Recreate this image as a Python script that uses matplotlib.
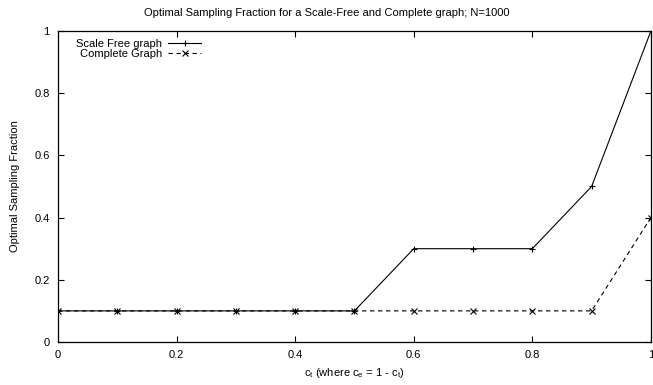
import matplotlib.pyplot as plt
from matplotlib.ticker import FuncFormatter

plt.rcParams['font.family'] = ['Liberation Sans', 'DejaVu Sans']
plt.rcParams['mathtext.default'] = 'regular'

# sampling results
ct = [0.0, 0.1, 0.2, 0.3, 0.4, 0.5, 0.6, 0.7, 0.8, 0.9, 1.0]
scale_free = [0.1, 0.1, 0.1, 0.1, 0.1, 0.1, 0.3, 0.3, 0.3, 0.5, 1.0]
complete = [0.1, 0.1, 0.1, 0.1, 0.1, 0.1, 0.1, 0.1, 0.1, 0.1, 0.4]
ticks = [0, 0.2, 0.4, 0.6, 0.8, 1.0]

fs = 8

fig = plt.figure(figsize=(6.53, 3.85), dpi=100)
ax = fig.add_axes([0.0888, 0.1117, 0.908, 0.8078])

ax.plot(ct, scale_free, color='black', linestyle='-', linewidth=0.8,
        marker='+', markersize=5, markeredgewidth=0.8, label='Scale Free graph')
ax.plot(ct, complete, color='black', linestyle=(0, (4, 3.2)), linewidth=0.8,
        marker='x', markersize=4, markeredgewidth=0.8, label='Complete Graph')

ax.set_xlim(0, 1)
ax.set_ylim(0, 1)
ax.set_xticks(ticks)
ax.set_yticks(ticks)
fmt = FuncFormatter(lambda v, p: '%g' % v)
ax.xaxis.set_major_formatter(fmt)
ax.yaxis.set_major_formatter(fmt)
ax.tick_params(direction='in', length=4, width=0.8, labelsize=fs,
               top=True, right=True, pad=6)
for s in ax.spines.values():
    s.set_linewidth(0.9)

fig.text(0.5, 0.967, 'Optimal Sampling Fraction for a Scale-Free and Complete graph; N=1000',
         ha='center', va='center', fontsize=fs)
ax.set_xlabel('c$_t$ (where c$_e$ = 1 - c$_t$)', fontsize=fs, labelpad=4)
ax.set_ylabel('Optimal Sampling Fraction', fontsize=fs, labelpad=10)

ax.legend(loc='upper left', bbox_to_anchor=(0.018, 1.0), frameon=False,
          markerfirst=False, fontsize=fs, handlelength=3.0,
          handletextpad=0.5, labelspacing=0.05, borderaxespad=0.3)

fig.savefig('out.png', dpi=100)
